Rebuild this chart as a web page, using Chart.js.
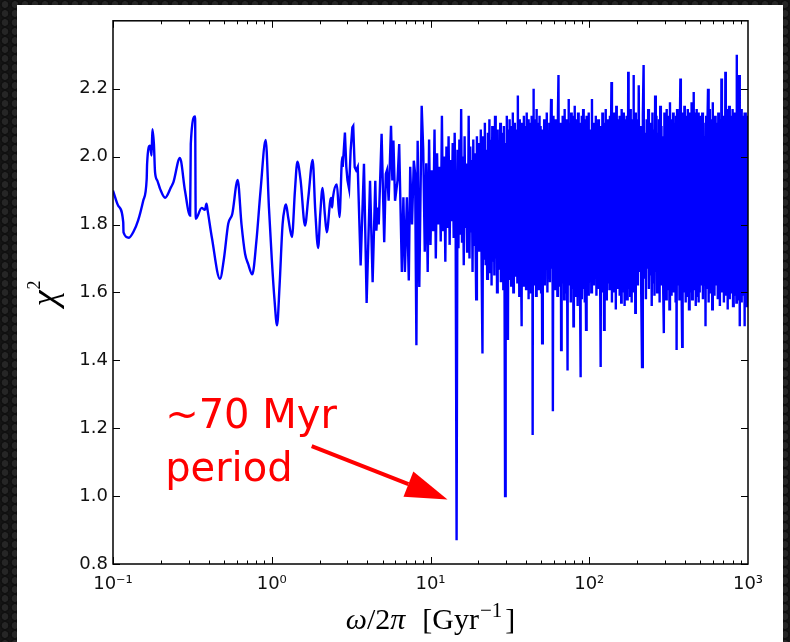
<!DOCTYPE html>
<html>
<head>
<meta charset="utf-8">
<script src="https://cdn.jsdelivr.net/npm/chart.js@4.4.1/dist/chart.umd.min.js"></script>
<style>
    html, body {
        margin: 0;
        width: 790px;
        height: 642px;
        overflow: hidden;
        background-color: #151515;
        background-image: radial-gradient(circle, #262626 0 3px, #101010 3.6px 4.4px, transparent 5px);
        background-size: 10px 9px;
    }
    #painel {
        position: absolute;
        left: 17px;
        top: 5px;
        width: 766px;
        height: 637px;
        background: #fff;
    }
    canvas { display: block; }
</style>
</head>
<body>
<div id="painel"><canvas id="grafico" width="766" height="637"></canvas></div>
<script>
// smooth part of the periodogram (low frequencies)
const freqSmooth = [0.1, 0.108, 0.116, 0.1165, 0.126, 0.135, 0.144, 0.155, 0.163, 0.164, 0.171, 0.175, 0.177, 0.181, 0.184, 0.19, 0.198, 0.213, 0.232, 0.24, 0.264, 0.284, 0.306, 0.309, 0.329, 0.332, 0.362, 0.379, 0.388, 0.395, 0.42, 0.472, 0.5, 0.532, 0.564, 0.61, 0.645, 0.679, 0.71, 0.754, 0.8, 0.85, 0.916, 0.96, 1.0, 1.04, 1.08, 1.12, 1.17, 1.21, 1.23, 1.27, 1.34, 1.4, 1.45, 1.52, 1.62, 1.7, 1.81, 1.88, 1.96, 2.02, 2.09, 2.16, 2.22, 2.36, 2.4, 2.43, 2.57, 2.67, 2.78, 2.8];
const chiSmooth = [1.90, 1.855, 1.807, 1.777, 1.761, 1.78, 1.812, 1.87, 1.934, 1.979, 2.032, 2.003, 2.081, 2.037, 1.954, 1.93, 1.905, 1.879, 1.91, 1.924, 1.996, 1.90, 1.826, 2.037, 2.118, 1.817, 1.849, 1.843, 1.861, 1.84, 1.76, 1.64, 1.70, 1.802, 1.831, 1.931, 1.80, 1.714, 1.684, 1.653, 1.75, 1.90, 2.049, 1.85, 1.70, 1.58, 1.503, 1.62, 1.80, 1.851, 1.859, 1.82, 1.763, 1.90, 1.985, 1.93, 1.797, 1.88, 1.99, 1.84, 1.731, 1.83, 1.908, 1.83, 1.777, 1.878, 1.85, 1.88, 1.918, 1.822, 1.999, 1.97];

// where it starts to get noisy
const freqMid = [2.89, 2.95, 3.0, 3.07, 3.14, 3.22, 3.26, 3.33, 3.4, 3.48, 3.63, 3.81, 3.96, 4.16, 4.32, 4.49, 4.56, 4.65, 4.72, 4.92, 5.11, 5.23, 5.32, 5.45, 5.64, 5.75, 5.84, 5.98, 6.2, 6.35, 6.6, 6.75, 6.9, 7.1, 7.3, 7.45, 7.65, 7.85, 8.0, 8.15, 8.3, 8.5, 8.8];
const chiMid = [2.071, 1.969, 1.93, 1.905, 2.018, 2.086, 2.09, 1.969, 1.96, 1.97, 1.679, 1.979, 1.569, 1.929, 1.63, 1.929, 1.782, 1.85, 1.80, 2.067, 1.748, 1.949, 1.96, 1.87, 2.091, 1.93, 2.047, 1.87, 1.93, 2.037, 1.66, 1.88, 1.66, 1.88, 1.635, 1.97, 1.80, 1.988, 1.95, 1.444, 2.047, 1.616, 2.15];

const freqA = [9.0, 9.2, 9.4, 9.6, 9.8, 10.0, 10.2, 10.4, 10.6, 10.8, 11.0, 11.2, 11.4, 11.6, 11.8, 12.0, 12.2, 12.4, 12.6, 12.8, 13.0, 13.2, 13.4, 13.6, 13.8, 14.0, 14.2, 14.4, 14.6, 14.8, 15.0, 15.2, 15.4, 15.6, 15.8, 16.0, 16.2, 16.4, 16.6, 16.8, 17.0, 17.2, 17.4, 17.6, 17.8, 18.0, 18.2, 18.4, 18.6, 18.8, 19.0, 19.2, 19.4, 19.6, 19.8, 20.0];
const chiA = [2.02, 1.72, 1.98, 1.66, 2.05, 1.74, 1.96, 1.78, 2.08, 1.70, 2.01, 1.80, 1.97, 1.75, 2.12, 1.78, 2.00, 1.69, 2.03, 1.79, 2.06, 1.74, 1.99, 1.81, 2.04, 1.76, 2.07, 1.80, 0.87, 2.02, 1.73, 2.05, 1.77, 2.14, 1.75, 2.00, 1.68, 2.06, 1.79, 1.98, 1.72, 1.76, 2.12, 1.70, 2.03, 1.78, 1.99, 1.66, 2.05, 1.74, 2.01, 1.77, 1.58, 2.06, 1.72, 2.00];

const freqB = [20.25, 20.5, 20.75, 21, 21.25, 21.5, 21.75, 22, 22.25, 22.5, 22.75, 23, 23.25, 23.5, 23.75, 24, 24.25, 24.5, 24.75, 25, 25.25, 25.5, 25.75, 26, 26.25, 26.5, 26.75, 27, 27.25, 27.5, 27.75, 28, 28.25, 28.5, 28.75, 29, 29.25, 29.5, 29.75, 30, 30.25, 30.5, 30.75, 31, 31.25, 31.5, 31.75, 32, 32.25, 32.5, 32.75, 33, 33.25, 33.5, 33.75, 34, 34.25, 34.5, 34.75, 35, 35.25, 35.5, 35.75, 36, 36.25, 36.5, 36.75, 37, 37.25, 37.5, 37.75, 38, 38.25, 38.5, 38.75, 39, 39.25, 39.5, 39.75, 40, 40.25, 40.5, 40.75, 41, 41.25, 41.5, 41.75, 42, 42.25, 42.5, 42.75, 43, 43.25, 43.5, 43.75, 44, 44.25, 44.5, 44.75, 45, 45.25, 45.5, 45.75, 46, 46.25, 46.5, 46.75, 47, 47.25, 47.5, 47.75, 48, 48.25, 48.5, 48.75, 49, 49.25, 49.5, 49.75, 50];
const chiB = [2.04, 1.72, 2.08, 1.66, 1.42, 2.06, 1.70, 2.10, 1.68, 2.02,
    1.64, 2.07, 1.71, 2.11, 1.66, 2.05, 1.62, 2.09, 1.69, 2.03,
    1.65, 2.12, 1.70, 2.06, 1.60, 2.08, 1.67, 2.04, 1.72, 2.10,
    1.63, 2.07, 1.68, 2.05, 1.61, 2.09, 1.66, 1.00, 2.04, 1.70,
    2.12, 1.67, 1.46, 2.08, 1.64, 2.11, 1.69, 2.05, 1.62, 2.09,
    1.66, 2.13, 1.60, 2.06, 1.70, 2.10, 1.65, 2.04, 1.68, 2.08,
    1.63, 2.18, 1.67, 2.07, 1.59, 2.11, 1.71, 2.05, 1.64, 1.50,
    2.10, 1.66, 2.06, 1.62, 2.12, 1.69, 2.04, 1.65, 2.09, 1.61,
    2.13, 1.68, 2.07, 1.63, 2.11, 1.58, 2.05, 1.67, 2.10, 1.64,
    2.08, 1.60, 2.12, 1.66, 2.06, 1.18, 2.04, 2.20, 1.65, 2.09,
    1.62, 2.11, 1.69, 2.07, 1.59, 2.14, 1.66, 2.05, 1.63, 2.10,
    1.68, 2.08, 1.61, 2.12, 1.65, 2.06, 1.70, 2.09, 1.60, 2.04];

const freqC = [50.5, 51, 51.5, 52, 52.5, 53, 53.5, 54, 54.5, 55, 55.5, 56, 56.5, 57, 57.5, 58, 58.5, 59, 59.5, 60, 60.5, 61, 61.5, 62, 62.5, 63, 63.5, 64, 64.5, 65, 65.5, 66, 66.5, 67, 67.5, 68, 68.5, 69, 69.5, 70, 70.5, 71, 71.5, 72, 72.5, 73, 73.5, 74, 74.5, 75, 75.5, 76, 76.5, 77, 77.5, 78, 78.5, 79, 79.5, 80, 80.5, 81, 81.5, 82, 82.5, 83, 83.5, 84, 84.5, 85, 85.5, 86, 86.5, 87, 87.5, 88, 88.5, 89, 89.5, 90, 90.5, 91, 91.5, 92, 92.5, 93, 93.5, 94, 94.5, 95, 95.5, 96, 96.5, 97, 97.5, 98, 98.5, 99, 99.5, 100];
const chiC = [1.45, 2.08, 1.66, 2.11, 1.62, 2.05, 1.68, 2.13, 1.60, 2.07,
    1.65, 2.10, 1.63, 2.06, 2.17, 1.67, 2.09, 1.25, 2.12, 1.64,
    2.05, 1.61, 2.11, 1.68, 2.07, 1.59, 2.13, 2.24, 1.66, 2.08,
    1.62, 2.10, 1.43, 2.06, 1.69, 2.12, 1.63, 2.05, 1.58, 2.14,
    1.65, 2.09, 1.60, 2.11, 1.67, 1.37, 2.07, 2.17, 1.62, 2.10,
    1.68, 2.06, 1.57, 2.13, 1.64, 2.08, 1.61, 2.12, 1.50, 2.05,
    1.66, 2.15, 1.59, 2.09, 1.63, 2.11, 1.68, 2.06, 1.56, 2.13,
    1.62, 2.08, 1.65, 2.10, 1.60, 1.35, 2.07, 1.67, 2.12, 1.58,
    2.09, 1.64, 2.14, 1.61, 2.06, 1.69, 2.11, 1.57, 2.08, 1.63,
    1.49, 2.12, 1.66, 2.07, 1.60, 2.10, 1.64, 2.13, 1.59, 2.06];

const freqD = [101, 102, 103, 104, 105, 106, 107, 108, 109, 110, 111, 112, 113, 114, 115, 116, 117, 118, 119, 120, 121, 122, 123, 124, 125, 126, 127, 128, 129, 130, 131, 132, 133, 134, 135, 136, 137, 138, 139, 140, 141, 142, 143, 144, 145, 146, 147, 148, 149, 150, 151, 152, 153, 154, 155, 156, 157, 158, 159, 160, 161, 162, 163, 164, 165, 166, 167, 168, 169, 170, 171, 172, 173, 174, 175, 176, 177, 178, 179, 180, 181, 182, 183, 184, 185, 186, 187, 188, 189, 190, 191, 192, 193, 194, 195, 196, 197, 198, 199, 200];
const chiD = [1.63, 2.08, 1.60, 2.17, 1.66, 2.10, 1.62, 2.06, 1.68, 2.12,
    1.59, 2.07, 1.65, 2.11, 1.61, 2.05, 1.67, 1.38, 2.09, 1.64,
    2.13, 1.60, 2.06, 1.49, 2.10, 1.66, 2.14, 1.58, 2.08, 1.63,
    2.11, 1.69, 2.05, 1.61, 2.12, 1.65, 2.07, 2.22, 1.57, 2.09,
    1.64, 2.13, 1.60, 2.06, 1.67, 2.10, 1.55, 2.15, 1.63, 2.08,
    1.61, 2.11, 1.68, 2.05, 1.59, 2.12, 1.64, 2.09, 1.57, 2.14,
    1.66, 2.07, 1.60, 2.13, 1.62, 2.08, 1.56, 2.11, 1.65, 2.06,
    1.69, 2.12, 1.58, 2.09, 1.63, 2.25, 1.61, 2.10, 1.66, 2.07,
    1.59, 2.14, 1.64, 2.08, 1.57, 2.11, 1.62, 2.06, 1.67, 2.24,
    1.60, 2.12, 1.65, 2.09, 1.54, 2.13, 1.62, 2.07, 1.66, 2.11];

const freqE = [202.5, 205, 207.5, 210, 212.5, 215, 217.5, 220, 222.5, 225, 227.5, 230, 232.5, 235, 237.5, 240, 242.5, 245, 247.5, 250, 252.5, 255, 257.5, 260, 262.5, 265, 267.5, 270, 272.5, 275, 277.5, 280, 282.5, 285, 287.5, 290, 292.5, 295, 297.5, 300, 302.5, 305, 307.5, 310, 312.5, 315, 317.5, 320, 322.5, 325, 327.5, 330, 332.5, 335, 337.5, 340, 342.5, 345, 347.5, 350, 352.5, 355, 357.5, 360, 362.5, 365, 367.5, 370, 372.5, 375, 377.5, 380, 382.5, 385, 387.5, 390, 392.5, 395, 397.5, 400, 402.5, 405, 407.5, 410, 412.5, 415, 417.5, 420, 422.5, 425, 427.5, 430, 432.5, 435, 437.5, 440, 442.5, 445, 447.5, 450, 452.5, 455, 457.5, 460, 462.5, 465, 467.5, 470, 472.5, 475, 477.5, 480, 482.5, 485, 487.5, 490, 492.5, 495, 497.5, 500];
const chiE = [1.62, 2.21, 1.66, 2.09, 1.60, 1.38, 2.12, 2.27, 1.64, 2.07,
    1.58, 2.11, 1.67, 2.14, 1.61, 2.06, 1.65, 2.10, 1.56, 2.13,
    1.63, 2.08, 1.59, 2.18, 1.66, 2.12, 1.60, 2.07, 1.64, 2.11,
    1.57, 2.15, 1.62, 2.09, 1.68, 2.06, 1.60, 1.48, 2.13, 1.65,
    2.10, 1.58, 2.14, 1.63, 2.07, 1.61, 2.12, 1.55, 2.16, 1.66,
    2.08, 1.59, 2.11, 1.64, 2.13, 1.60, 2.06, 1.67, 2.10, 1.57,
    2.12, 1.43, 2.14, 1.62, 2.09, 1.65, 2.07, 1.58, 2.11, 2.23,
    1.61, 2.10, 1.56, 1.44, 2.13, 1.64, 2.08, 1.60, 2.15, 1.63,
    2.09, 1.57, 2.12, 1.66, 2.06, 1.59, 2.14, 1.62, 2.10, 1.55,
    2.13, 1.65, 2.07, 1.60, 2.11, 1.63, 2.16, 1.58, 2.08, 1.64,
    2.12, 2.19, 1.61, 2.09, 1.66, 2.13, 1.56, 2.10, 1.62, 2.14,
    1.59, 2.07, 1.65, 2.11, 1.57, 2.13, 1.63, 2.08, 1.60, 2.12];

const freqF = [505, 510, 515, 520, 525, 530, 535, 540, 545, 550, 555, 560, 565, 570, 575, 580, 585, 590, 595, 600, 605, 610, 615, 620, 625, 630, 635, 640, 645, 650, 655, 660, 665, 670, 675, 680, 685, 690, 695, 700, 705, 710, 715, 720, 725, 730, 735, 740, 745, 750, 755, 760, 765, 770, 775, 780, 785, 790, 795, 800, 805, 810, 815, 820, 825, 830, 835, 840, 845, 850, 855, 860, 865, 870, 875, 880, 885, 890, 895, 900, 905, 910, 915, 920, 925, 930, 935, 940, 945, 950, 955, 960, 965, 970, 975, 980, 985, 990, 995, 1000];
const chiF = [2.08, 1.62, 2.13, 1.58, 2.10, 1.65, 2.06, 1.50, 2.12, 1.61,
    2.09, 2.20, 1.57, 2.14, 1.63, 2.07, 1.60, 2.11, 1.55, 2.16,
    1.64, 2.08, 1.59, 2.12, 1.62, 2.10, 1.66, 2.06, 1.58, 2.13,
    1.61, 2.09, 1.56, 2.11, 1.64, 2.23, 1.60, 2.07, 1.63, 2.12,
    1.57, 2.10, 1.62, 2.25, 1.59, 2.14, 1.65, 2.08, 1.55, 2.11,
    1.61, 2.15, 1.58, 2.09, 1.64, 2.12, 1.60, 2.07, 1.66, 2.14,
    1.56, 2.10, 1.62, 2.13, 1.59, 2.08, 1.63, 2.11, 1.57, 2.30,
    1.61, 2.12, 1.58, 2.16, 1.64, 2.24, 1.60, 1.50, 2.10, 1.62,
    2.14, 1.57, 2.09, 1.63, 2.12, 1.59, 2.07, 1.61, 2.11, 1.50,
    2.13, 1.60, 2.08, 2.13, 1.56, 2.10, 1.63, 2.12, 1.58, 2.06];

const xTickValues = [0.1, 1, 10, 100, 1000];
const xTickLabels = ['10\u207B\u00B9', '10\u2070', '10\u00B9', '10\u00B2', '10\u00B3'];
const yTickValues = [0.8, 1.0, 1.2, 1.4, 1.6, 1.8, 2.0, 2.2];

// annotation, in data units
const notaLinhas = ['~70 Myr', 'period'];
const notaPos = { x: 0.213, y: [1.2, 1.044] };
const setaInicio = { x: 1.785, y: 1.147 };
const setaFim = { x: 12.8, y: 0.99 };

const juntar = (blocos) => {
    const pts = [];
    blocos.forEach(([fs, cs]) => fs.forEach((f, i) => pts.push({ x: f, y: cs[i] })));
    return pts;
};
// smooth stretch gets a curve, the noisy one straight segments
const pontosSuaves = juntar([[freqSmooth, chiSmooth]]);
const pontosRuido = juntar([
    [freqSmooth.slice(-1), chiSmooth.slice(-1)], [freqMid, chiMid], [freqA, chiA], [freqB, chiB],
    [freqC, chiC], [freqD, chiD], [freqE, chiE], [freqF, chiF]
]);

const fonteTicks = { family: '"DejaVu Sans", sans-serif', size: 18 };
const azul = '#0000ff';

const molduraPlugin = {
    id: 'moldura',
    afterDatasetsDraw(chart) {
        const { ctx, chartArea: a, scales: { x, y } } = chart;
        ctx.save();
        ctx.strokeStyle = '#000';
        ctx.lineWidth = 1;
        ctx.beginPath();
        for (let d = -1; d < 3; d++) {
            for (let m = 1; m < 10; m++) {
                const px = Math.round(x.getPixelForValue(m * Math.pow(10, d))) + 0.5;
                const len = m === 1 ? 7 : 3.5;
                ctx.moveTo(px, a.bottom); ctx.lineTo(px, a.bottom - len);
                ctx.moveTo(px, a.top); ctx.lineTo(px, a.top + len);
            }
        }
        yTickValues.forEach(v => {
            const py = Math.round(y.getPixelForValue(v)) + 0.5;
            ctx.moveTo(a.left, py); ctx.lineTo(a.left + 7, py);
            ctx.moveTo(a.right, py); ctx.lineTo(a.right - 7, py);
        });
        ctx.stroke();
        ctx.lineWidth = 1.5;
        ctx.strokeRect(a.left, a.top, a.right - a.left, a.bottom - a.top);

        // red note + arrow
        ctx.fillStyle = '#ff0000';
        ctx.strokeStyle = '#ff0000';
        ctx.font = '40px "DejaVu Sans", sans-serif';
        ctx.textBaseline = 'alphabetic';
        notaLinhas.forEach((t, i) => {
            ctx.fillText(t, x.getPixelForValue(notaPos.x), y.getPixelForValue(notaPos.y[i]));
        });
        const x0 = x.getPixelForValue(setaInicio.x), y0 = y.getPixelForValue(setaInicio.y);
        const x1 = x.getPixelForValue(setaFim.x), y1 = y.getPixelForValue(setaFim.y);
        const ang = Math.atan2(y1 - y0, x1 - x0);
        const cabeca = 42, meia = 13.5;
        const bx = x1 - cabeca * Math.cos(ang), by = y1 - cabeca * Math.sin(ang);
        ctx.lineWidth = 4;
        ctx.beginPath();
        ctx.moveTo(x0, y0);
        ctx.lineTo(bx, by);
        ctx.stroke();
        ctx.beginPath();
        ctx.moveTo(x1, y1);
        ctx.lineTo(bx + meia * Math.sin(ang), by - meia * Math.cos(ang));
        ctx.lineTo(bx - meia * Math.sin(ang), by + meia * Math.cos(ang));
        ctx.closePath();
        ctx.fill();
        ctx.restore();
    },
    afterDraw(chart) {
        const { ctx, chartArea: a } = chart;
        ctx.save();
        ctx.fillStyle = '#000';
        ctx.textBaseline = 'alphabetic';
        // x title: w/2pi [Gyr^-1]
        const partes = [
            { t: '\u03C9', f: 'italic 30px "Liberation Serif", serif' },
            { t: '/2', f: '30px "Liberation Serif", serif' },
            { t: '\u03C0', f: 'italic 30px "Liberation Serif", serif' },
            { t: '[Gyr', f: '30px "Liberation Serif", serif', gap: 17 },
            { t: '\u22121', f: '21px "Liberation Serif", serif', sobe: 12, gap: 1 },
            { t: ']', f: '30px "Liberation Serif", serif', gap: 3 }
        ];
        desenharPartes(ctx, partes, (a.left + a.right) / 2, 624);
        // y title: chi^2, rotated
        ctx.translate(39, (a.top + a.bottom) / 2 + 1);
        ctx.rotate(-Math.PI / 2);
        desenharPartes(ctx, [
            { t: '\u03C7', f: 'italic 36px "Liberation Serif", serif' },
            { t: '2', f: '18px "Liberation Serif", serif', sobe: 16, gap: 1 }
        ], 0, 0);
        ctx.restore();
    }
};

function desenharPartes(ctx, partes, cx, base) {
    let total = 0;
    partes.forEach(p => {
        ctx.font = p.f;
        p.w = ctx.measureText(p.t).width;
        total += p.w + (p.gap || 0);
    });
    let px = cx - total / 2;
    partes.forEach(p => {
        ctx.font = p.f;
        px += p.gap || 0;
        ctx.fillText(p.t, px, base - (p.sobe || 0));
        px += p.w;
    });
}

new Chart(document.getElementById('grafico'), {
    type: 'line',
    data: {
        datasets: [
            {
                data: pontosSuaves,
                borderColor: azul,
                borderWidth: 2.4,
                pointRadius: 0,
                fill: false,
                cubicInterpolationMode: 'monotone'
            },
            {
                data: pontosRuido,
                borderColor: azul,
                borderWidth: 2.4,
                pointRadius: 0,
                fill: false,
                tension: 0
            }
        ]
    },
    options: {
        responsive: false,
        animation: false,
        events: [],
        layout: { padding: { left: 0, top: 15, right: 35, bottom: 0 } },
        plugins: {
            legend: { display: false },
            tooltip: { enabled: false }
        },
        scales: {
            x: {
                type: 'logarithmic',
                min: 0.1,
                max: 1000,
                grid: { display: false, drawTicks: false },
                border: { display: false },
                ticks: {
                    font: fonteTicks,
                    color: '#111',
                    padding: 10,
                    maxRotation: 0,
                    autoSkip: false,
                    callback: (v, i) => xTickLabels[i]
                },
                afterBuildTicks: (s) => { s.ticks = xTickValues.map(v => ({ value: v })); },
                afterFit: (s) => { s.height = 78; }
            },
            y: {
                type: 'linear',
                min: 0.8,
                max: 2.4,
                grid: { display: false, drawTicks: false },
                border: { display: false },
                ticks: {
                    font: fonteTicks,
                    color: '#111',
                    padding: 5,
                    callback: (v) => v.toFixed(1)
                },
                afterBuildTicks: (s) => { s.ticks = yTickValues.map(v => ({ value: v })); },
                afterFit: (s) => { s.width = 96; }
            }
        }
    },
    plugins: [molduraPlugin]
});
</script>
</body>
</html>
